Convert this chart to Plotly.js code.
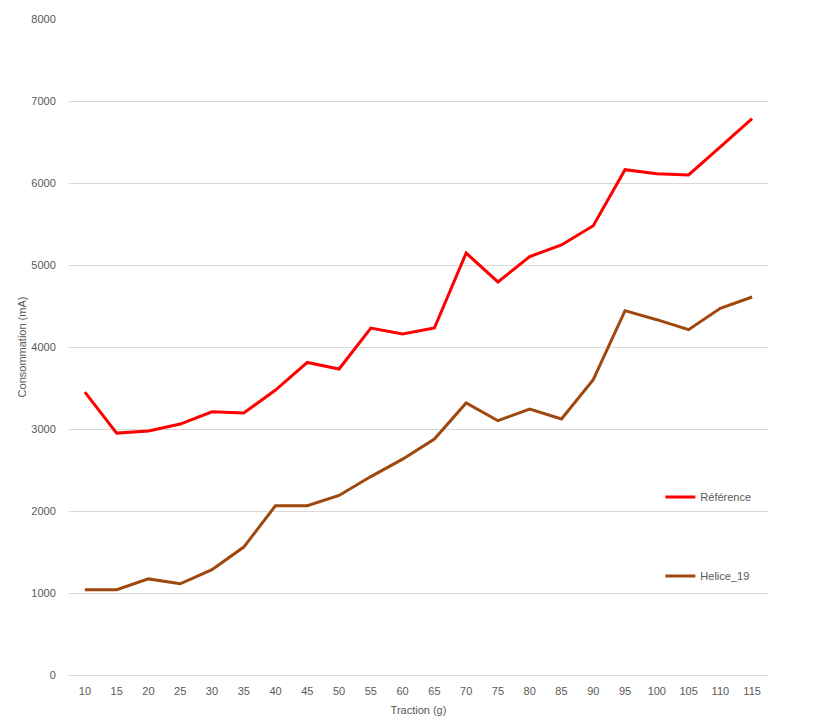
<!DOCTYPE html>
<html>
<head>
<meta charset="utf-8">
<script src="https://cdn.plot.ly/plotly-3.0.1.min.js"></script>
<style>html,body{margin:0;padding:0;background:#fff;}#chart{width:817px;height:725px;}</style>
</head>
<body>
<div id="chart"></div>
<script>
const traction = ["10","15","20","25","30","35","40","45","50","55","60","65","70","75","80","85","90","95","100","105","110","115"];
const reference = [3450,2950,2975,3060,3210,3195,3475,3812,3732,4230,4158,4232,5146,4793,5103,5244,5479,6162,6113,6098,6440,6784];
const helice19 = [1040,1040,1172,1112,1284,1560,2065,2065,2190,2420,2632,2878,3317,3101,3244,3122,3601,4443,4333,4211,4472,4610];
const yTicks = [0,1000,2000,3000,4000,5000,6000,7000,8000];

const font = {family: "Liberation Sans, Arial, sans-serif", size: 11, color: "#595959"};

const traces = [
  {x: traction, y: reference, name: "Référence", type: "scatter", mode: "lines",
   line: {color: "#FF0000", width: 3}, legendgroup: "a"},
  {x: traction, y: helice19, name: "Helice_19", type: "scatter", mode: "lines",
   line: {color: "#9E480E", width: 3}, legendgroup: "b"}
];

const layout = {
  width: 817, height: 725,
  margin: {l: 69, r: 49, t: 19, b: 50},
  paper_bgcolor: "#fff", plot_bgcolor: "#fff",
  font: font,
  showlegend: true,
  legend: {x: 0.846, xanchor: "left", y: 0.2935, yanchor: "top",
           bgcolor: "rgba(0,0,0,0)", tracegroupgap: 60, itemwidth: 30,
           font: {family: font.family, size: 11, color: "#595959"}},
  xaxis: {type: "category", range: [-0.5, traction.length - 0.5], showgrid: false, showline: true,
          linecolor: "#D9D9D9", linewidth: 1,
          ticks: "outside", ticklen: 6, tickcolor: "rgba(0,0,0,0)", zeroline: false,
          title: {text: "Traction (g)", font: {family: font.family, size: 11, color: "#595959"}, standoff: 10},
          tickfont: {family: font.family, size: 11, color: "#595959"}},
  yaxis: {range: [0, 8000], tickvals: yTicks, ticktext: yTicks.map(String),
          showgrid: true, gridcolor: "#D9D9D9", gridwidth: 1, zeroline: false, showline: false,
          ticks: "outside", ticklen: 10, tickcolor: "rgba(0,0,0,0)",
          title: {text: "Consommation (mA)", font: {family: font.family, size: 11, color: "#595959"}, standoff: 2},
          tickfont: {family: font.family, size: 11, color: "#595959"}}
};

Plotly.newPlot("chart", traces, layout, {displayModeBar: false, staticPlot: true});
</script>
</body>
</html>
